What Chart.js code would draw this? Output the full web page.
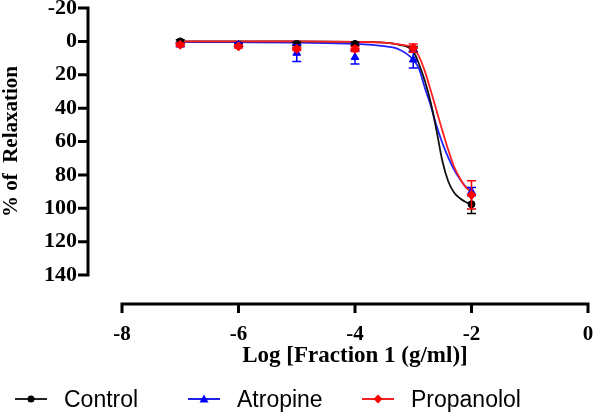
<!DOCTYPE html>
<html>
<head>
<meta charset="utf-8">
<script src="https://cdn.jsdelivr.net/npm/chart.js@4.4.0/dist/chart.umd.min.js"></script>
<style>
  html, body { margin: 0; padding: 0; background: #fff; }
  #wrap { position: relative; width: 600px; height: 414px; }
  .legend-item {
    position: absolute; top: 385px; height: 28px;
    display: flex; align-items: center;
    font-family: "Liberation Sans", Arial, sans-serif; font-size: 23px; color: #000;
  }
  .legend-item svg { margin-right: 17px; }
</style>
</head>
<body>
<div id="wrap">
  <canvas id="chart" width="600" height="414"></canvas>
  <div class="legend-item" style="left:15px">
    <svg width="32" height="12"><line x1="0" y1="6" x2="32" y2="6" stroke="#222" stroke-width="2"/><circle cx="16" cy="6" r="3.5" fill="#000"/></svg>Control
  </div>
  <div class="legend-item" style="left:188px">
    <svg width="32" height="12"><line x1="0" y1="6" x2="32" y2="6" stroke="#2323f0" stroke-width="2"/><polygon points="16,1.5 20.5,9.5 11.5,9.5" fill="#0000ff"/></svg>Atropine
  </div>
  <div class="legend-item" style="left:362px">
    <svg width="32" height="12"><line x1="0" y1="6" x2="32" y2="6" stroke="#f02323" stroke-width="2"/><polygon points="16,1.5 20.5,6 16,10.5 11.5,6" fill="#ff0000"/></svg>Propanolol
  </div>
</div>
<script>
// measured points (mean and SEM), log dose
const doses = [-7, -6, -5, -4, -3, -2];
const controlMean = [0, 2, 1.5, 1.5, 4.5, 97.6];
const controlSem = [1, 1, 1, 1, 1.5, 5.5];
const atropineMean = [2, 2, 7, 9.5, 11, 90];
const atropineSem = [1, 1, 5, 4, 5, 2.5];
const propanololMean = [2, 3, 4.5, 4.5, 4, 92];
const propanololSem = [1, 1, 1, 1.5, 2.5, 8.5];

// fitted curves
const fitX = [-7, -6, -5, -4, -3.5, -3.25, -3, -2.9, -2.8, -2.7, -2.6, -2.5, -2.4, -2.3, -2.2, -2.1, -2];
const controlFit = [0, 0, 0, 0.3, 0.8, 2, 6, 13.7, 23.8, 36.6, 53.5, 71.7, 83.8, 90.5, 94, 96.3, 97.8];
const atropineFit = [0.3, 0.5, 0.8, 1.5, 2.9, 4.7, 11, 16.5, 27.9, 38.5, 50.6, 60.9, 69.5, 76.8, 82.4, 87, 89.5];
const propanololFit = [0, 0, 0, 0.3, 0.8, 1.8, 4, 9.1, 18, 29.5, 41.5, 53.6, 65, 75, 82, 87.3, 90.3];

const xTicks = [-8, -6, -4, -2, 0];
const yTicks = [-20, 0, 20, 40, 60, 80, 100, 120, 140];

const serif = "'Liberation Serif', 'Times New Roman', serif";

const toPoints = (xs, ys) => xs.map((v, i) => ({ x: v, y: ys[i] }));

// GraphPad style axes: detached from each other
const axisLines = {
  id: "axisLines",
  afterDraw(chart) {
    const { ctx, scales: { x, y } } = chart;
    ctx.save();
    ctx.strokeStyle = "#000";
    ctx.lineWidth = 3;
    const ax = y.right - 34;
    const y0 = y.getPixelForValue(-20), y1 = y.getPixelForValue(140);
    ctx.beginPath();
    ctx.moveTo(ax, y0 - 1.5);
    ctx.lineTo(ax, y1 + 1.5);
    yTicks.forEach((t) => {
      const py = y.getPixelForValue(t);
      ctx.moveTo(ax - 10, py);
      ctx.lineTo(ax, py);
    });
    ctx.stroke();

    const ay = x.top + 29;
    const x0 = x.getPixelForValue(-8), x1 = x.getPixelForValue(0);
    ctx.beginPath();
    ctx.moveTo(x0 - 1.5, ay);
    ctx.lineTo(x1 + 1.5, ay);
    xTicks.forEach((t) => {
      const px = x.getPixelForValue(t);
      ctx.moveTo(px, ay);
      ctx.lineTo(px, ay + 9);
    });
    ctx.stroke();
    ctx.restore();
  },
};

const errorBars = {
  id: "errorBars",
  beforeDatasetDraw(chart, args) {
    const ds = chart.data.datasets[args.index];
    if (!ds.sem) return;
    const { ctx, scales: { x, y } } = chart;
    ctx.save();
    ctx.strokeStyle = ds.borderColor;
    ctx.lineWidth = 1.5;
    ctx.beginPath();
    ds.data.forEach((p, i) => {
      const px = x.getPixelForValue(p.x);
      const a = y.getPixelForValue(p.y - ds.sem[i]);
      const b = y.getPixelForValue(p.y + ds.sem[i]);
      ctx.moveTo(px, a);
      ctx.lineTo(px, b);
      ctx.moveTo(px - 4.5, a);
      ctx.lineTo(px + 4.5, a);
      ctx.moveTo(px - 4.5, b);
      ctx.lineTo(px + 4.5, b);
    });
    ctx.stroke();
    ctx.restore();
  },
};

const curve = (label, data, color, order) => ({
  label,
  data: toPoints(fitX, data),
  showLine: true,
  borderColor: color,
  borderWidth: 1.8,
  pointRadius: 0,
  cubicInterpolationMode: "monotone",
  order,
});

const marks = (label, mean, sem, color, style, radius, order) => ({
  label,
  data: toPoints(doses, mean),
  sem,
  showLine: false,
  borderColor: color,
  backgroundColor: color,
  pointStyle: style,
  pointRadius: radius,
  pointBorderWidth: 1,
  order,
});

new Chart(document.getElementById("chart"), {
  type: "scatter",
  data: {
    datasets: [
      marks("Propanolol", propanololMean, propanololSem, "#ff0000", "rectRot", 4.5, 0),
      marks("Atropine", atropineMean, atropineSem, "#0000ff", "triangle", 4.5, 1),
      marks("Control", controlMean, controlSem, "#000000", "circle", 3.5, 2),
      curve("Propanolol fit", propanololFit, "#ff2020", 3),
      curve("Control fit", controlFit, "#111111", 4),
      curve("Atropine fit", atropineFit, "#2020ff", 5),
    ],
  },
  options: {
    responsive: false,
    animation: false,
    layout: { padding: { top: 8, right: 12, bottom: 44, left: 0 } },
    plugins: {
      legend: { display: false },
      tooltip: { enabled: false },
    },
    scales: {
      x: {
        type: "linear",
        min: -8,
        max: 0,
        // tick marks are hidden; their length just spaces the labels
        grid: { display: false, drawTicks: true, tickLength: 47 },
        border: { display: false },
        ticks: {
          stepSize: 2,
          padding: 0,
          color: "#000",
          font: { family: serif, size: 21, weight: "bold" },
        },
        title: {
          display: true,
          text: "Log [Fraction 1 (g/ml)]",
          color: "#000",
          padding: 0,
          font: { family: serif, size: 23, weight: "bold" },
        },
        afterFit(scale) { scale.height = 95; },
      },
      y: {
        type: "linear",
        min: -20,
        max: 140,
        reverse: true,
        grid: { display: false, drawTicks: true, tickLength: 45 },
        border: { display: false },
        ticks: {
          stepSize: 20,
          autoSkip: false,
          padding: 0,
          color: "#000",
          font: { family: serif, size: 22, weight: "bold", lineHeight: 0.7 },
        },
        title: {
          display: true,
          text: "% of  Relaxation",
          color: "#000",
          padding: 0,
          font: { family: serif, size: 21, weight: "bold", lineHeight: 1.1 },
        },
        afterFit(scale) { scale.width = 122; },
      },
    },
  },
  plugins: [axisLines, errorBars],
});
</script>
</body>
</html>
